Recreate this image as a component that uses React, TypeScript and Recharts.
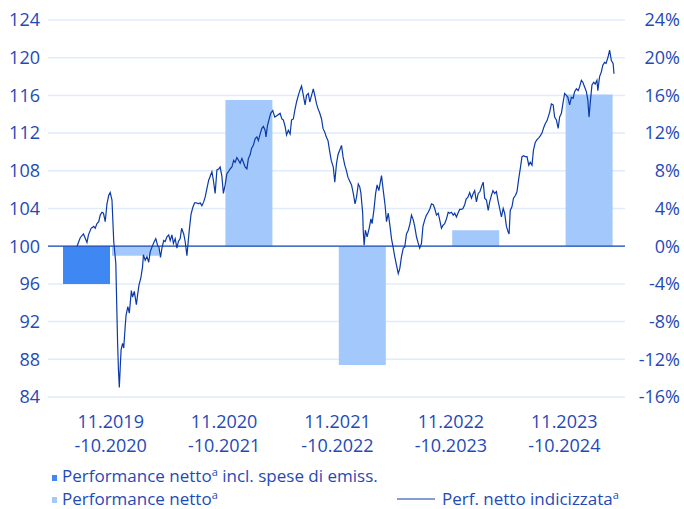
import {
  Bar,
  CartesianGrid,
  ComposedChart,
  Line,
  ReferenceLine,
  XAxis,
  YAxis,
} from "recharts";

// periods (bars), one per year
const periodStart = ["11.2019", "11.2020", "11.2021", "11.2022", "11.2023"];
const periodEnd = ["-10.2020", "-10.2021", "-10.2022", "-10.2023", "-10.2024"];

// yearly performance in %
const perfInclFees = [-4.0, null, null, null, null];
const perfNet = [-1.0, 15.5, -12.6, 1.7, 16.1];

const indexTicks = [84, 88, 92, 96, 100, 104, 108, 112, 116, 120, 124];
const pctTicks = [-16, -12, -8, -4, 0, 4, 8, 12, 16, 20, 24];

// indexed net performance: [days since 01.11.2019, index value]
const indexedPerf: [number, number][] = [
  [0, 100.0], [11, 100.9], [22, 101.3], [34, 100.4], [39, 101.2], [48, 101.9], [57, 102.1], [62, 101.9],
  [68, 102.4], [74, 102.6], [79, 103.3], [85, 103.6], [90, 103.5], [96, 102.6], [102, 104.5], [108, 105.4],
  [113, 105.7], [119, 104.9], [125, 100.5], [132, 98.2], [138, 89.9], [141, 86.9], [144, 85.0], [147, 87.1],
  [150, 89.0], [155, 89.7], [159, 89.2], [164, 91.5], [167, 92.7], [173, 93.6], [178, 92.9], [185, 95.3],
  [189, 94.6], [195, 95.2], [202, 93.8], [206, 94.8], [211, 95.9], [217, 96.6], [223, 97.8], [226, 99.1],
  [232, 98.5], [238, 98.9], [244, 98.3], [249, 99.4], [255, 99.9], [263, 100.5], [268, 100.8], [274, 100.1],
  [279, 99.9], [284, 98.8], [289, 99.8], [295, 100.6], [300, 100.5], [306, 101.0], [312, 101.2], [317, 100.6],
  [323, 101.2], [328, 100.3], [334, 100.8], [340, 99.8], [345, 100.5], [351, 100.8], [356, 101.9], [363, 101.3],
  [368, 100.5], [374, 99.0], [382, 101.7], [388, 103.4], [394, 104.1], [400, 104.6], [407, 104.6], [413, 104.5],
  [419, 104.6], [425, 104.3], [431, 104.7], [436, 105.2], [442, 106.1], [448, 107.0], [453, 107.4], [459, 107.9],
  [464, 107.0], [470, 105.6], [476, 108.1], [482, 108.2], [487, 108.4], [493, 107.4], [498, 105.6], [504, 106.5],
  [510, 107.7], [515, 107.9], [521, 108.2], [527, 108.4], [533, 109.1], [538, 108.9], [544, 109.4], [550, 109.1],
  [555, 108.8], [561, 109.3], [566, 108.9], [572, 108.4], [578, 108.2], [583, 109.3], [589, 109.7], [594, 110.4],
  [600, 110.7], [606, 111.4], [612, 111.6], [617, 111.2], [623, 111.9], [629, 112.5], [634, 112.7], [640, 112.3],
  [643, 111.6], [648, 112.8], [653, 113.4], [659, 114.1], [666, 114.4], [673, 113.7], [682, 113.9], [691, 114.1],
  [697, 113.5], [702, 113.4], [708, 112.7], [713, 111.8], [719, 112.3], [725, 111.9], [730, 113.4], [736, 113.5],
  [741, 114.4], [747, 115.3], [753, 116.0], [758, 116.5], [764, 117.0], [770, 116.0], [776, 115.0], [781, 116.0],
  [787, 116.2], [792, 115.3], [798, 116.0], [804, 116.7], [809, 116.0], [815, 115.1], [820, 114.6], [826, 114.1],
  [832, 113.5], [837, 112.5], [843, 112.1], [848, 111.6], [854, 111.2], [860, 110.0], [865, 109.1], [872, 108.4],
  [877, 106.8], [883, 108.8], [888, 109.7], [894, 110.2], [900, 110.7], [905, 109.5], [911, 108.6], [916, 108.1],
  [922, 107.3], [928, 106.9], [934, 106.5], [940, 105.6], [946, 104.5], [951, 105.2], [957, 106.6], [962, 106.3],
  [966, 105.6], [972, 103.5], [974, 101.5], [977, 100.1], [981, 101.7], [987, 101.0], [994, 101.9], [1000, 102.9],
  [1004, 102.4], [1010, 103.8], [1016, 105.6], [1021, 106.5], [1027, 105.9], [1032, 106.8], [1036, 107.5], [1042, 105.9],
  [1048, 104.4], [1053, 102.6], [1059, 103.5], [1065, 102.1], [1070, 100.8], [1076, 99.8], [1081, 98.9], [1087, 98.0],
  [1093, 97.1], [1098, 97.6], [1104, 98.9], [1110, 99.8], [1115, 99.9], [1121, 101.3], [1127, 101.7], [1133, 102.4],
  [1138, 103.3], [1144, 102.8], [1149, 102.1], [1155, 101.0], [1161, 100.3], [1166, 99.8], [1172, 100.3], [1177, 102.1],
  [1183, 102.8], [1189, 103.3], [1195, 103.6], [1201, 104.0], [1206, 104.5], [1212, 104.4], [1217, 104.0], [1223, 103.3],
  [1229, 103.5], [1234, 102.8], [1240, 101.9], [1245, 102.2], [1251, 102.4], [1257, 102.9], [1263, 103.6], [1268, 103.5],
  [1274, 103.6], [1280, 103.3], [1285, 103.5], [1291, 103.1], [1296, 103.5], [1302, 103.9], [1308, 103.9], [1313, 104.0],
  [1319, 104.4], [1324, 105.0], [1330, 105.2], [1336, 105.7], [1342, 105.1], [1348, 105.6], [1353, 105.9], [1359, 104.7],
  [1365, 105.6], [1371, 105.8], [1376, 106.3], [1382, 106.8], [1387, 105.1], [1393, 104.9], [1399, 103.8], [1404, 104.7],
  [1410, 105.4], [1415, 105.9], [1421, 105.6], [1427, 105.8], [1432, 104.9], [1438, 104.0], [1444, 103.1], [1450, 104.0],
  [1455, 103.5], [1461, 102.1], [1467, 101.5], [1470, 101.3], [1474, 103.8], [1480, 104.2], [1485, 105.1], [1492, 105.4],
  [1497, 105.8], [1503, 107.2], [1508, 108.2], [1514, 109.5], [1520, 109.6], [1525, 109.5], [1531, 109.5], [1537, 108.6],
  [1542, 108.9], [1548, 108.6], [1553, 110.2], [1559, 111.0], [1565, 111.3], [1571, 111.5], [1576, 111.7], [1582, 112.0],
  [1588, 112.6], [1593, 113.0], [1599, 113.3], [1608, 114.2], [1614, 115.1], [1620, 115.0], [1625, 113.7], [1631, 113.4],
  [1637, 112.5], [1642, 113.7], [1648, 114.1], [1653, 115.1], [1659, 116.2], [1665, 116.0], [1670, 115.8], [1676, 115.0],
  [1682, 115.8], [1688, 115.7], [1693, 116.4], [1699, 116.7], [1705, 116.5], [1710, 116.9], [1716, 117.6], [1721, 117.4],
  [1727, 116.9], [1733, 116.4], [1738, 115.5], [1742, 113.7], [1747, 115.5], [1752, 117.1], [1758, 117.4], [1763, 117.2],
  [1769, 117.6], [1772, 116.5], [1778, 118.0], [1784, 118.5], [1789, 119.2], [1795, 119.5], [1800, 119.4], [1807, 120.1],
  [1812, 120.8], [1818, 119.7], [1824, 119.4], [1827, 118.3],
];

const legendNet = "Performance netto";
const legendFeesSuffix = " incl. spese di emiss.";
const legendLine = "Perf. netto indicizzata";

const TEXT = "#1f4ab7";
const DARK_BAR = "#3f88f4";
const LIGHT_BAR = "#a3c8fc";
const LINE = "#0b3aa8";
const GRID = "#e0ebfb";
const FONT = "'Open Sans', 'Noto Sans', sans-serif";

const barData = periodStart.map((p, i) => ({
  period: p,
  inclFees: perfInclFees[i],
  net: perfNet[i],
}));

const lineData = indexedPerf.map(([day, value]) => ({ day, value }));

const PeriodTick = (props: any) => {
  const { x, y, payload, index } = props;
  const i = payload?.index ?? index;
  return (
    <text x={x} y={y} textAnchor="middle" fill={TEXT} fontSize={18} fontFamily={FONT}>
      <tspan x={x} dy={23}>{payload.value}</tspan>
      <tspan x={x} dy={24}>{periodEnd[i]}</tspan>
    </text>
  );
};

const PctTick = (props: any) => {
  const { x, y, payload } = props;
  return (
    <text x={x + 47} y={y} dy="0.355em" textAnchor="end" fill={TEXT} fontSize={18} fontFamily={FONT}>
      {payload.value}%
    </text>
  );
};

// label with a raised small "a", then optional trailing text back on the baseline
const LegendText = ({ x, y, label, tail }: { x: number; y: number; label: string; tail?: string }) => (
  <text x={x} y={y}>
    <tspan>{label}</tspan>
    <tspan fontSize={11} dy={-6}>a</tspan>
    {tail ? <tspan dy={6}>{tail}</tspan> : null}
  </text>
);

const LegendBlock = () => (
  <svg width={684} height={54} style={{ position: "absolute", left: 0, top: 455 }}>
    <g fontFamily={FONT} fontSize={17} fill={TEXT}>
      <rect x={52} y={20} width={5} height={6} fill={DARK_BAR} />
      <LegendText x={62} y={27} label={legendNet} tail={legendFeesSuffix} />
      <rect x={52} y={42} width={5} height={6} fill={LIGHT_BAR} />
      <LegendText x={62} y={50} label={legendNet} />
      <line x1={397} x2={435} y1={44} y2={44} stroke={LINE} strokeWidth={1.2} />
      <LegendText x={442} y={50} label={legendLine} />
    </g>
  </svg>
);

export default function App() {
  return (
    <div style={{ position: "absolute", left: 0, top: 0, width: 684, height: 509, background: "#fff" }}>
      <ComposedChart
        width={684}
        height={460}
        data={barData}
        margin={{ top: 20, right: 0, bottom: 8, left: 8 }}
        barSize={47}
        barGap={2}
      >
        <CartesianGrid
          vertical={false}
          stroke={GRID}
          strokeWidth={1.5}
          xAxisId="cat"
          yAxisId="left"
        />
        <XAxis
          xAxisId="cat"
          dataKey="period"
          axisLine={false}
          tickLine={false}
          interval={0}
          height={55}
          padding={{ left: 6, right: 4 }}
          tick={<PeriodTick />}
        />
        <XAxis
          xAxisId="time"
          type="number"
          dataKey="day"
          domain={[0, 1827]}
          padding={{ left: 29, right: 11 }}
          hide
        />
        <YAxis
          yAxisId="left"
          orientation="left"
          width={40}
          domain={[84, 124]}
          ticks={indexTicks}
          interval={0}
          axisLine={false}
          tickLine={false}
          tick={{ fill: TEXT, fontSize: 18, fontFamily: FONT }}
        />
        <YAxis
          yAxisId="pct"
          orientation="right"
          width={59}
          domain={[-16, 24]}
          ticks={pctTicks}
          interval={0}
          axisLine={false}
          tickLine={false}
          tick={<PctTick />}
        />
        <Bar
          dataKey="inclFees"
          xAxisId="cat"
          yAxisId="pct"
          fill={DARK_BAR}
          isAnimationActive={false}
        />
        <Bar
          dataKey="net"
          xAxisId="cat"
          yAxisId="pct"
          fill={LIGHT_BAR}
          isAnimationActive={false}
        />
        <ReferenceLine y={100} yAxisId="left" xAxisId="cat" stroke="#1a48b5" strokeWidth={1.3} />
        <Line
          data={lineData}
          dataKey="value"
          xAxisId="time"
          yAxisId="left"
          type="linear"
          stroke={LINE}
          strokeWidth={1.2}
          dot={false}
          activeDot={false}
          isAnimationActive={false}
        />
      </ComposedChart>
      <LegendBlock />
    </div>
  );
}
